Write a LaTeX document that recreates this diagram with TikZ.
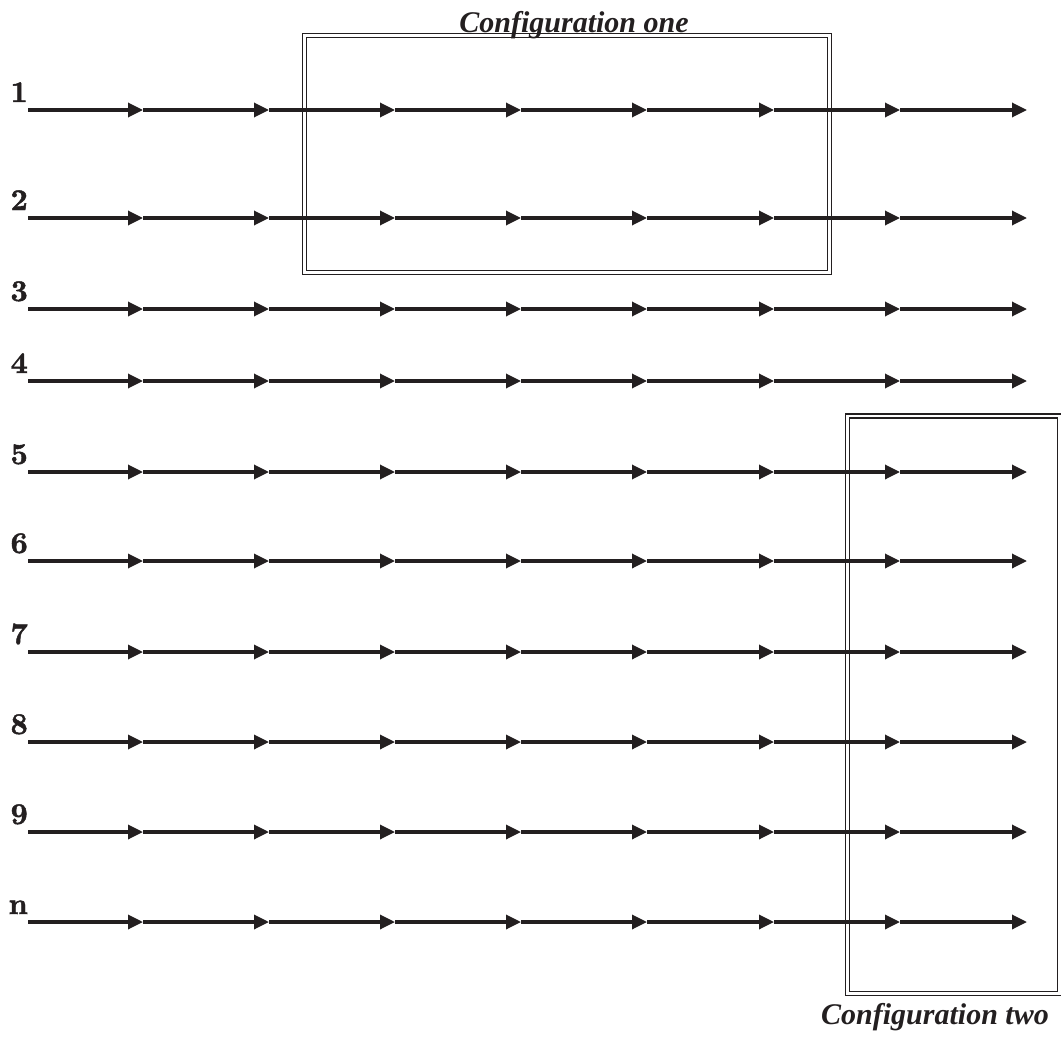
\documentclass[tikz,border=0pt]{standalone}
\usepackage{fontspec}
\newfontfamily\capfont{Liberation Serif}
\newfontfamily\labfont{lmroman10-bold.otf}[FakeBold=1.6]
\usetikzlibrary{arrows.meta}
\definecolor{ink}{HTML}{231F20}
\begin{document}
\begin{tikzpicture}[x=1pt,y=-1pt,
  flow/.style={line width=3.3pt, draw=ink, -{Triangle[length=15pt,width=14pt]}},
  rowlabel/.style={anchor=base east, inner sep=0pt, font=\labfont\fontsize{30}{30}\selectfont, text=ink},
  cfgbox/.style={draw=ink, double=white, line width=1.6pt, double distance=2.6pt},
  cfgtitle/.style={inner sep=0pt, anchor=base, font=\capfont\fontsize{30}{30}\selectfont\bfseries\itshape, text=ink}]
\useasboundingbox (0,0) rectangle (1061,1041);
% configuration boxes
\coordinate (b1a) at (304.5,35.5);
\coordinate (b1b) at (829.5,272.5);
\draw[cfgbox] (b1a) rectangle (b1b);
\coordinate (b2a) at (847.5,416);
\coordinate (b2b) at (1059.5,993.5);
\draw[cfgbox] (b2a) rectangle (b2b);
% rows
\foreach \lab/\yy in {1/110,2/218,3/309,4/381,5/472,6/561,7/652,8/742,9/832,n/922}{
  \node[rowlabel] (lab\lab) at (28,\yy-8) {\lab};
  \coordinate (s\lab) at (28,\yy);
  \foreach \xx [count=\k] in {143,269,395,521,647,774,900,1027}{
    \coordinate (p\lab-\k) at (\xx,\yy);
  }
  \draw[flow] (s\lab) -- (p\lab-1);
  \foreach \k in {1,...,7}{
    \pgfmathtruncatemacro{\kn}{\k+1}
    \draw[flow] (p\lab-\k) -- (p\lab-\kn);
  }
}
% titles
\node[cfgtitle] (t1) at (574,33) {Configuration one};
\node[cfgtitle] (t2) at (935,1024) {Configuration two};
\end{tikzpicture}
\end{document}
